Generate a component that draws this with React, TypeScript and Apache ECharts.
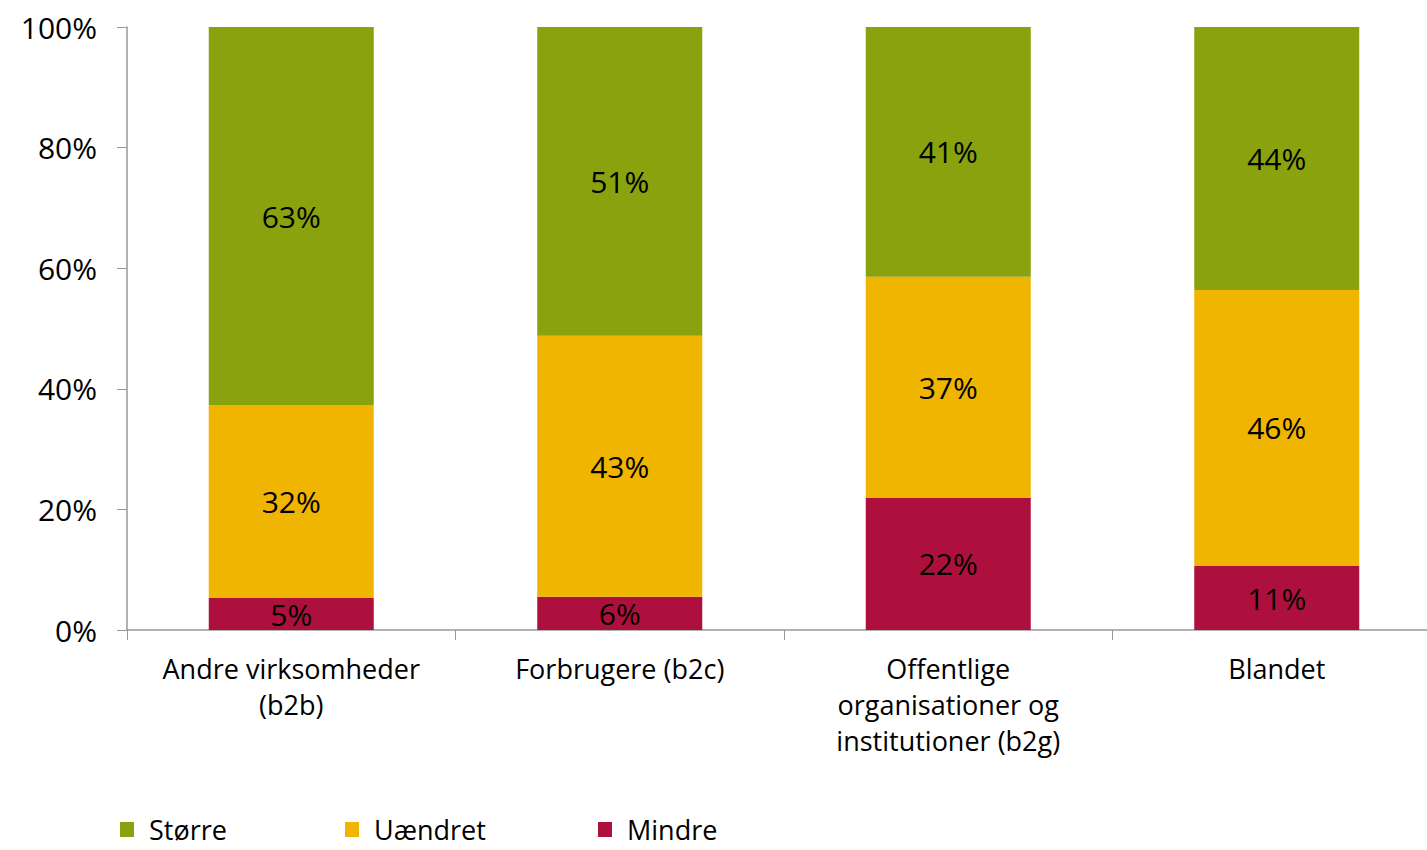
import React, { useEffect, useRef } from "react";
import * as echarts from "echarts";

const categories = [
  "Andre virksomheder\n(b2b)",
  "Forbrugere (b2c)",
  "Offentlige\norganisationer og\ninstitutioner (b2g)",
  "Blandet",
];
const seriesNames = ["Større", "Uændret", "Mindre"];
const mindre = [5.3, 5.5, 21.9, 10.6];
const uaendret = [32.0, 43.3, 36.7, 45.8];
const stoerre = [62.7, 51.2, 41.4, 43.6];
const yTicks = [0, 20, 40, 60, 80, 100];

const COLORS = { stoerre: "#89A20D", uaendret: "#F0B500", mindre: "#AD103C" };
const FONT = "Open Sans";

export default function App() {
  const ref = useRef<HTMLDivElement>(null);
  useEffect(() => {
    if (!ref.current) return;
    const chart = echarts.init(ref.current, null, { renderer: "svg" });
    const label = {
      show: true,
      position: "inside",
      color: "#000",
      fontSize: 30,
      fontFamily: FONT,
      formatter: (p: any) => Math.round(p.value) + "%",
    };
    const mk = (name: string, data: number[], color: string) => ({
      name,
      type: "bar",
      stack: "total",
      data,
      barWidth: 165,
      itemStyle: { color },
      label,
    });
    chart.setOption({
      animation: false,
      textStyle: { fontFamily: FONT },
      grid: { left: 127, right: 0, top: 27, bottom: 220, containLabel: false },
      legend: [
        { data: [seriesNames[0]], left: 120, top: 816 },
        { data: [seriesNames[1]], left: 345, top: 816 },
        { data: [seriesNames[2]], left: 598, top: 816 },
      ].map((l) => ({
        ...l,
        padding: 0,
        icon: "rect",
        itemWidth: 14,
        itemHeight: 15,
        textStyle: {
          fontSize: 27,
          lineHeight: 27,
          color: "#000",
          fontFamily: FONT,
          padding: [0, 0, 0, 10],
        },
      })),
      xAxis: {
        type: "category",
        data: categories,
        axisLine: { lineStyle: { color: "#999", width: 1.5 } },
        axisTick: { show: true, length: 10, lineStyle: { color: "#999" } },
        axisLabel: {
          color: "#000",
          fontSize: 27,
          lineHeight: 36,
          margin: 20,
          interval: 0,
          fontFamily: FONT,
        },
      },
      yAxis: {
        type: "value",
        min: yTicks[0],
        max: yTicks[yTicks.length - 1],
        interval: 20,
        splitLine: { show: false },
        axisLine: { show: true, lineStyle: { color: "#999", width: 1.5 } },
        axisTick: { show: true, length: 10, lineStyle: { color: "#999" } },
        axisLabel: {
          color: "#000",
          fontSize: 30,
          margin: 30,
          formatter: "{value}%",
          fontFamily: FONT,
        },
      },
      series: [
        mk(seriesNames[2], mindre, COLORS.mindre),
        mk(seriesNames[1], uaendret, COLORS.uaendret),
        mk(seriesNames[0], stoerre, COLORS.stoerre),
      ],
    });
    return () => chart.dispose();
  }, []);
  return (
    <div
      style={{
        position: "fixed",
        left: 0,
        top: 0,
        width: 1427,
        height: 850,
        overflow: "hidden",
        background: "#fff",
      }}
    >
      <div ref={ref} style={{ width: 1441, height: 850 }} />
    </div>
  );
}
